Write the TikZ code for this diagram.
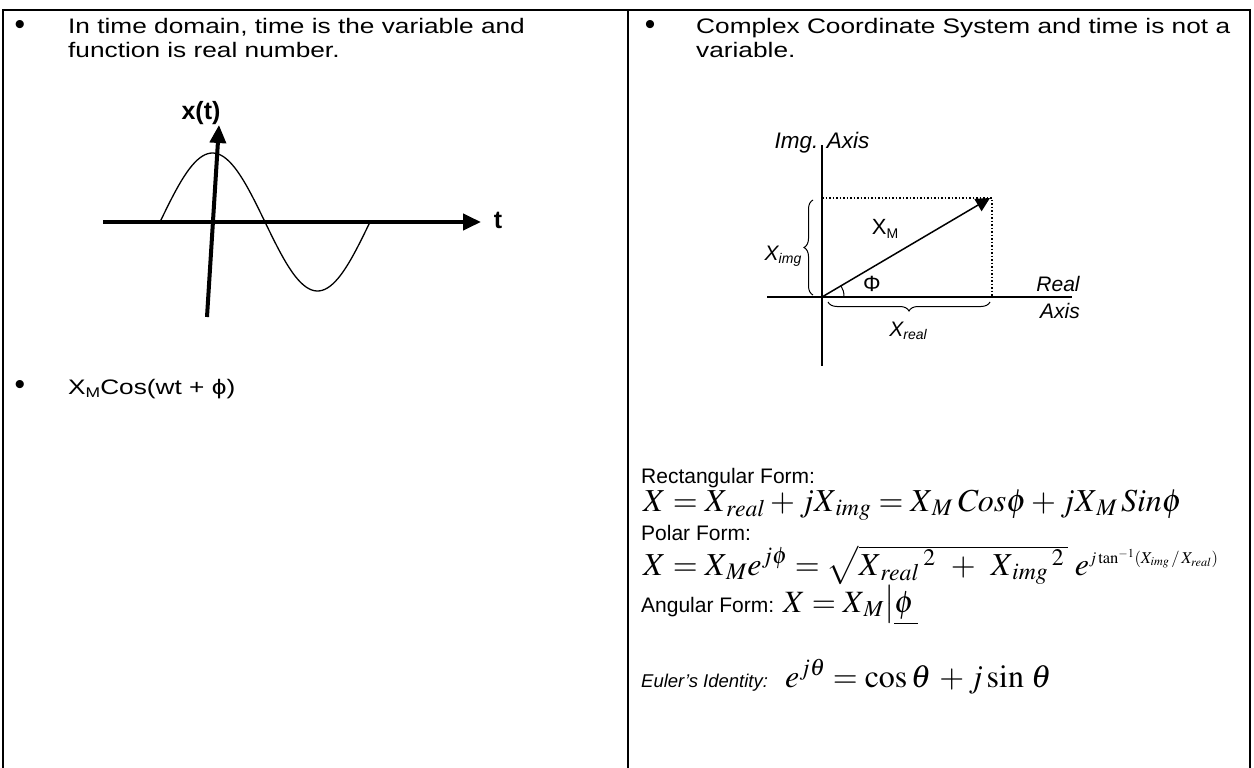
\documentclass[tikz,border=0pt]{standalone}
\usepackage{graphicx}
\usepackage{mathptmx}
\usepackage[no-math]{fontspec}
\setmainfont{Liberation Sans}
\usetikzlibrary{arrows.meta,decorations.pathreplacing}
\newcommand{\sbM}{\raisebox{-0.3ex}{\fontsize{14}{14}\selectfont M}}
\newcommand{\wide}[1]{\scalebox{1.25}[1]{#1}}
\begin{document}
\begin{tikzpicture}[x=1pt,y=-1pt,
  txt/.style={anchor=base west, inner sep=0pt, font=\fontsize{21}{25}\selectfont},
  bul/.style={inner sep=0pt, font=\fontsize{30}{30}\selectfont},
  lbl/.style={inner sep=0pt, font=\fontsize{20.4}{24}\selectfont},
  eq/.style={anchor=base west, inner sep=0pt, font=\fontsize{32}{38}\selectfont},
  frame/.style={line width=2pt},
  thickaxis/.style={line width=4pt},
  thinaxis/.style={line width=1.5pt},
  bigtip/.style={-{Triangle[length=18pt,width=16pt]}},
  smalltip/.style={-{Triangle[length=14pt,width=14pt]}},
  br/.style={decorate, decoration={brace, amplitude=9pt}, line width=1pt}]
\useasboundingbox (0,0) rectangle (1254,768);
% table frame
\draw[frame] (3,768) -- (3,10) -- (1250,10) -- (1250,768);
\draw[frame] (628,10) -- (628,768);
% left column text
\node[bul] (b1) at (20,27) {•};
\node[txt] (t1) at (68,34) {\wide{In time domain, time is the variable and}};
\node[txt] (t2) at (68,58) {\wide{function is real number.}};
\node[bul] (b2) at (20,387) {•};
\node[txt] (t3) at (68,394) {\wide{X\sbM Cos(wt + ϕ)}};
% right column text
\node[bul] (b3) at (650,27) {•};
\node[txt] (t4) at (696,34) {\wide{Complex Coordinate System and time is not a}};
\node[txt] (t5) at (696,58) {\wide{variable.}};
% time-domain plot
\coordinate (hl) at (103,222);
\coordinate (hr) at (481,222);
\coordinate (vb) at (207,317);
\coordinate (vt) at (219,125);
\draw[line width=1.3pt, domain=160:370, samples=80, smooth, variable=\x]
  plot (\x, {222 - 69*sin((\x-160)/210*360)});
\draw[thickaxis, bigtip] (hl) -- (hr);
\draw[thickaxis, bigtip] (vb) -- (vt);
\node[lbl, font=\fontsize{25}{29}\selectfont\bfseries] (xt) at (201,113) {x(t)};
\node[lbl, font=\fontsize{25}{29}\selectfont\bfseries] (tl) at (498,220) {t};
% complex plane
\coordinate (O) at (822,297);
\coordinate (T) at (990,198);
\coordinate (TL) at (822,198);
\coordinate (TR) at (992,198);
\coordinate (TB) at (992,297);
\coordinate (ya) at (822,145);
\coordinate (yb) at (822,366);
\coordinate (xa) at (767,297);
\coordinate (xb) at (1072,297);
\draw[thinaxis] (ya) -- (yb);
\draw[thinaxis] (xa) -- (xb);
\draw[line width=1.5pt, dotted] (TL) -- (TR) -- (TB);
\draw[line width=1.5pt, smalltip] (O) -- (T);
\draw[line width=1pt] (844,297) .. controls (844,292) and (843,289) .. (841,286);
\draw[br] (813,295) -- (813,200);
\draw[br] (990,302) -- (828,302);
\node[lbl, font=\fontsize{22.5}{26}\selectfont\itshape] (ia) at (822,143) {Img. Axis};
\node[lbl, font=\fontsize{22}{26}\selectfont] (xm) at (885,229) {X\sbM};
\node[lbl, font=\fontsize{22}{26}\selectfont] (ph) at (872,284) {Φ};
\node[lbl, font=\fontsize{21}{24}\selectfont\itshape] (re) at (1058,284) {Real};
\node[lbl, font=\fontsize{21}{24}\selectfont\itshape] (ax) at (1060,311) {Axis};
\node[lbl, font=\fontsize{21}{24}\selectfont\itshape] (xi) at (783,256) {X\raisebox{-0.3ex}{\fontsize{14}{14}\selectfont img}};
\node[lbl, font=\fontsize{21}{24}\selectfont\itshape] (xr) at (908,331) {X\raisebox{-0.3ex}{\fontsize{14}{14}\selectfont real}};
% forms
\node[txt] (rf) at (641,483) {Rectangular Form:};
\node[eq] (e1) at (643,511) {$X = X_{\,real} + jX_{\,img} = X_{\,M}\,\mathit{Cos}\phi + jX_{\,M}\,\mathit{Sin}\phi$};
\node[txt] (pf) at (641,540) {Polar Form:};
\node[eq] (e2) at (643,575) {$X = X_{\,M}e^{j\phi} = \sqrt{X_{\,real}\,{}^{2} \mkern6mu+\mkern6mu X_{\,img}\,{}^{2}\,}\,\, e^{\mbox{\fontsize{16.5}{16}\selectfont$j\tan^{-1}(X_{img}\,/\,X_{real})$}}$};
\node[txt] (af) at (641,612) {Angular Form:};
\node[eq, font=\fontsize{31}{36}\selectfont] (e3) at (783,612) {$X = X_{\,M}\big|\underline{\phi\,}$};
\node[txt, font=\fontsize{18.5}{22}\selectfont\itshape] (ei) at (641,687) {Euler’s Identity:};
\node[eq] (e4) at (785,687) {$e^{j\theta} =\cos\theta\, + j\sin\,\theta$};
\end{tikzpicture}
\end{document}
